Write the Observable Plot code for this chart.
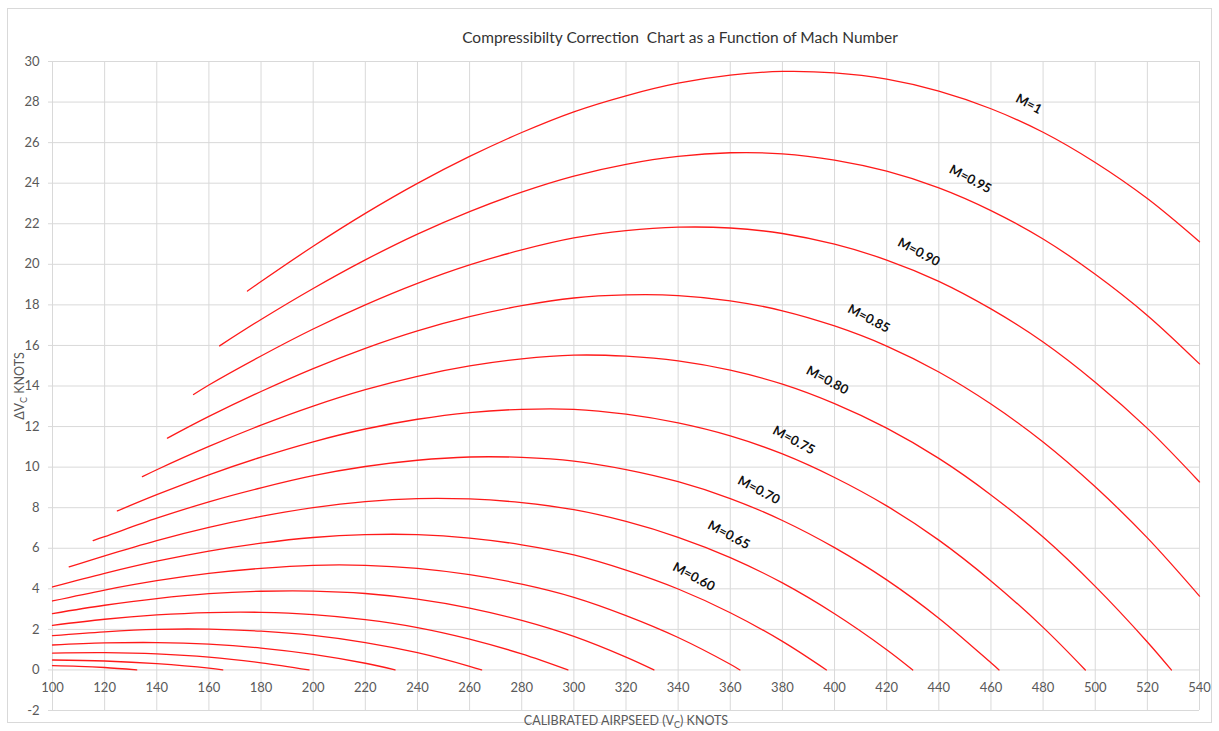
<!DOCTYPE html>
<html>
<head>
<meta charset="utf-8">
<script src="https://cdn.jsdelivr.net/npm/d3@7"></script>
<script src="https://cdn.jsdelivr.net/npm/@observablehq/plot@0.6"></script>
<style>
  html, body { margin: 0; padding: 0; background: #fff; }
  #chart { width: 1219px; height: 731px; }
</style>
</head>
<body>
<div id="chart"></div>
<script>
// Tick labels
const xTicks = [100,120,140,160,180,200,220,240,260,280,300,320,340,360,380,400,420,440,460,480,500,520,540];
const yTicks = [-2,0,2,4,6,8,10,12,14,16,18,20,22,24,26,28,30];

// Curves: [calibrated airspeed (kt), delta Vc (kt)]
const m020 = [[100,0.21],[110,0.18],[120,0.12],[132.3,0]];
const m025 = [[100,0.49],[120,0.44],[140,0.31],[160,0.09],[165.3,0]];
const m030 = [[100,0.83],[120,0.85],[140,0.79],[160,0.63],[180,0.35],[198.4,0]];
const m035 = [[100,1.23],[120,1.33],[140,1.35],[160,1.27],[180,1.08],[200,0.77],[220,0.33],[231.4,0]];
const m040 = [[100,1.69],[120,1.88],[140,2.0],[160,2.01],[180,1.91],[200,1.7],[220,1.35],[240,0.85],[260,0.18],[264.6,0]];
const m045 = [[100,2.2],[120,2.5],[140,2.71],[160,2.83],[180,2.84],[200,2.73],[220,2.48],[240,2.09],[260,1.52],[280,0.79],[297.7,0]];
const m050 = [[100,2.78],[120,3.19],[140,3.52],[160,3.76],[180,3.88],[200,3.89],[220,3.77],[240,3.49],[260,3.05],[280,2.44],[300,1.65],[320,0.63],[330.7,0]];
const m055 = [[100,3.4],[120,3.94],[140,4.4],[160,4.76],[180,5.01],[200,5.16],[220,5.16],[240,5.01],[260,4.7],[280,4.23],[300,3.58],[320,2.68],[340,1.6],[360,0.28],[363.7,0]];
const m060 = [[100,4.09],[120,4.76],[140,5.36],[160,5.86],[180,6.25],[200,6.53],[220,6.67],[240,6.67],[260,6.5],[280,6.17],[300,5.67],[320,4.92],[340,3.99],[360,2.82],[380,1.41],[396.9,0]];
const m065 = [[106.4,5.08],[120,5.63],[140,6.38],[160,7.03],[180,7.57],[200,8.0],[220,8.3],[240,8.45],[260,8.43],[280,8.25],[300,7.9],[320,7.32],[340,6.54],[360,5.54],[380,4.29],[400,2.77],[420,1.0],[430,0]];
const m070 = [[115.6,6.38],[120,6.57],[140,7.48],[160,8.29],[180,8.98],[200,9.58],[220,10.03],[240,10.34],[260,10.5],[280,10.48],[300,10.3],[320,9.88],[340,9.28],[360,8.45],[380,7.37],[400,6.03],[420,4.44],[440,2.55],[460,0.35],[463.1,0]];
const m075 = [[124.9,7.84],[140,8.64],[160,9.62],[180,10.49],[200,11.25],[220,11.88],[240,12.36],[260,12.69],[280,12.85],[300,12.85],[320,12.61],[340,12.18],[360,11.54],[380,10.65],[400,9.49],[420,8.09],[440,6.4],[460,4.39],[480,2.1],[496.2,0]];
const m080 = [[134.5,9.53],[140,9.87],[160,11.02],[180,12.07],[200,13.01],[220,13.82],[240,14.48],[260,14.99],[280,15.34],[300,15.52],[320,15.47],[340,15.24],[360,14.78],[380,14.09],[400,13.13],[420,11.92],[440,10.43],[460,8.63],[480,6.55],[500,4.12],[520,1.38],[529.2,0]];
const m085 = [[144.1,11.43],[160,12.5],[180,13.73],[200,14.86],[220,15.86],[240,16.72],[260,17.42],[280,17.96],[300,18.34],[320,18.49],[340,18.46],[360,18.2],[380,17.71],[400,16.96],[420,15.97],[440,14.69],[460,13.11],[480,11.24],[500,9.03],[520,6.51],[540,3.64]];
const m090 = [[154.1,13.58],[160,14.05],[180,15.48],[200,16.81],[220,18.0],[240,19.06],[260,19.97],[280,20.71],[300,21.3],[320,21.66],[340,21.83],[360,21.79],[380,21.52],[400,20.99],[420,20.21],[440,19.16],[460,17.8],[480,16.17],[500,14.19],[520,11.91],[540,9.27]];
const m095 = [[164.1,15.98],[180,17.28],[200,18.81],[220,20.22],[240,21.49],[260,22.6],[280,23.56],[300,24.35],[320,24.93],[340,25.32],[360,25.5],[380,25.45],[400,25.14],[420,24.59],[440,23.77],[460,22.65],[480,21.25],[500,19.51],[520,17.48],[540,15.09]];
const m100 = [[174.8,18.68],[180,19.15],[200,20.89],[220,22.51],[240,23.99],[260,25.32],[280,26.5],[300,27.52],[320,28.31],[340,28.93],[360,29.33],[380,29.51],[400,29.44],[420,29.13],[440,28.54],[460,27.67],[480,26.51],[500,25.02],[520,23.24],[540,21.11]];

const machNames = ["0.20","0.25","0.30","0.35","0.40","0.45","0.50","0.55","0.60","0.65","0.70","0.75","0.80","0.85","0.90","0.95","1"];
const machSeries = [m020,m025,m030,m035,m040,m045,m050,m055,m060,m065,m070,m075,m080,m085,m090,m095,m100];

// Curve labels
const labelText = ["M=1","M=0.95","M=0.90","M=0.85","M=0.80","M=0.75","M=0.70","M=0.65","M=0.60"];
const labelVc   = [474.5,452.1,432.3,413.1,397.2,384.4,370.9,359.4,346.0];
const labelDv   = [27.9,24.2,20.6,17.32,14.28,11.32,8.86,6.65,4.59];

const rows = machSeries.flatMap((pts, i) => pts.map(([vc, dv]) => ({mach: machNames[i], vc, dv})));
const labels = labelText.map((t, i) => ({t, vc: labelVc[i], dv: labelDv[i]}));

const grid = "#d9d9d9";
const tickColor = "#595959";

const chart = Plot.plot({
  width: 1219,
  height: 731,
  marginLeft: 52,
  marginRight: 20,
  marginTop: 61,
  marginBottom: 21,
  style: {fontFamily: "Lato, 'Open Sans', sans-serif", background: "#fff"},
  x: {domain: [100, 540], axis: null},
  y: {domain: [-2, 30], axis: null},
  marks: [
    Plot.gridX(xTicks, {stroke: grid, strokeOpacity: 1, strokeWidth: 1}),
    Plot.gridY(yTicks, {stroke: grid, strokeOpacity: 1, strokeWidth: 1}),
    Plot.axisY(yTicks, {tickSize: 4, tickPadding: 9, stroke: grid, fill: tickColor, fontSize: 13, tickFormat: d => String(d), label: null}),
    Plot.text(xTicks, {x: d => d, y: 0, dy: 18, text: d => String(d), fill: tickColor, fontSize: 13}),
    Plot.line(rows, {x: "vc", y: "dv", z: "mach", stroke: "#ff1a1a", strokeWidth: 1.3, curve: "catmull-rom"}),
    Plot.text(labels, {x: "vc", y: "dv", text: "t", rotate: 28, fontWeight: "bold", fontSize: 13, fill: "#111"})
  ]
});

document.getElementById("chart").appendChild(chart);

const svg = d3.select(chart);
// chart border
svg.insert("rect", ":first-child")
  .attr("x", 7.5).attr("y", 8.5).attr("width", 1204).attr("height", 714)
  .attr("fill", "none").attr("stroke", grid);

// title
svg.append("text")
  .attr("x", 680).attr("y", 43)
  .attr("text-anchor", "middle")
  .attr("fill", "#333").attr("font-size", 15.5)
  .attr("font-family", "Lato, sans-serif")
  .attr("xml:space", "preserve")
  .style("white-space", "pre")
  .text("Compressibilty Correction  Chart as a Function of Mach Number");

// x axis title
const xt = svg.append("text")
  .attr("x", 626).attr("y", 725)
  .attr("text-anchor", "middle")
  .attr("fill", tickColor).attr("font-size", 12.5)
  .attr("font-family", "Lato, sans-serif");
xt.append("tspan").text("CALIBRATED AIRPSEED (V");
xt.append("tspan").attr("font-size", 9).attr("dy", 3).text("C");
xt.append("tspan").attr("dy", -3).text(") KNOTS");

// y axis title
const yt = svg.append("text")
  .attr("transform", "translate(24,386) rotate(-90)")
  .attr("text-anchor", "middle")
  .attr("fill", tickColor).attr("font-size", 12.5)
  .attr("font-family", "Lato, sans-serif");
yt.append("tspan").text("\u0394V");
yt.append("tspan").attr("font-size", 9).attr("dy", 3).text("C");
yt.append("tspan").attr("dy", -3).text(" KNOTS");
</script>
</body>
</html>
